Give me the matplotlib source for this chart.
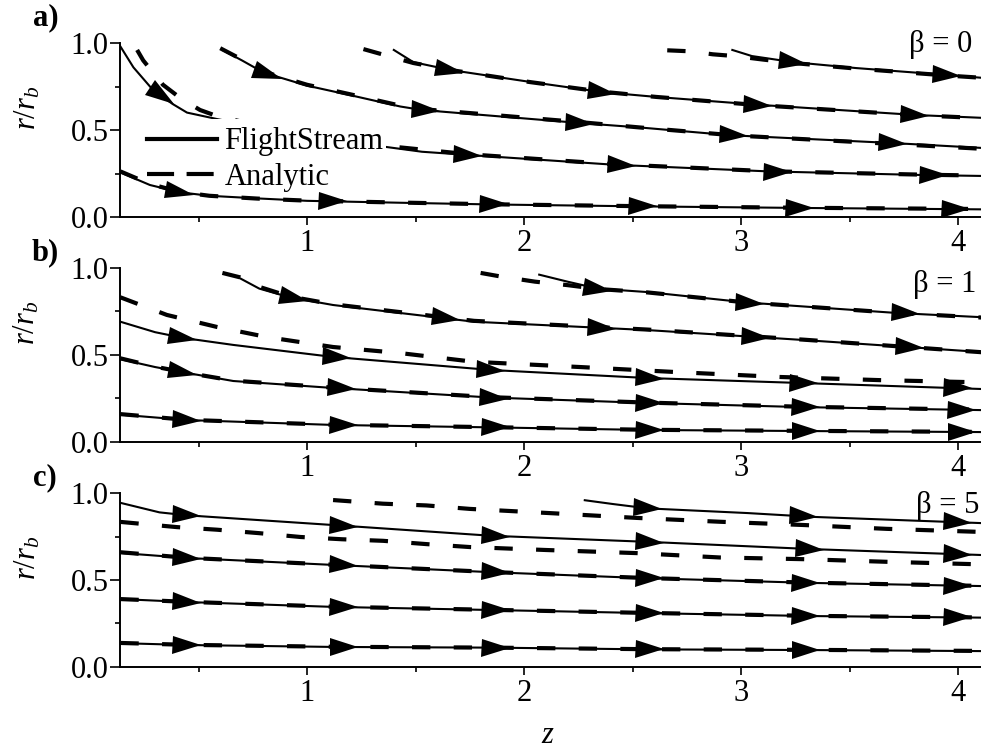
import numpy as np
import matplotlib
matplotlib.use('Agg')
import matplotlib.pyplot as plt
from matplotlib.markers import MarkerStyle
from matplotlib.transforms import Affine2D
from matplotlib.lines import Line2D
from matplotlib.patches import Rectangle
from matplotlib.ticker import MultipleLocator, FormatStrFormatter

plt.rcParams['font.family'] = 'Liberation Serif'
plt.rcParams['mathtext.fontset'] = 'custom'
plt.rcParams['mathtext.rm'] = 'Liberation Serif'
plt.rcParams['mathtext.it'] = 'Liberation Serif:italic'

# ---- beta = 0 ----
a_fs1 = ([0.14, 0.276, 0.415, 0.55, 0.77, 1.0, 1.43, 1.86, 2.55, 3.29, 4.11],
         [0.256, 0.184, 0.142, 0.122, 0.107, 0.093, 0.082, 0.072, 0.061, 0.052, 0.044])
a_fs2 = ([0.14, 0.2, 0.29, 0.38, 0.447, 0.585, 0.8, 1.0, 1.35, 1.53, 1.75, 2.42, 3.13, 3.85, 4.11],
         [0.98, 0.86, 0.73, 0.65, 0.60, 0.563, 0.51, 0.47, 0.405, 0.375, 0.356, 0.30, 0.262, 0.241, 0.236])
a_fs3 = ([0.61, 0.70, 0.80, 1.0, 1.2, 1.43, 1.53, 2.26, 2.53, 2.95, 3.70, 4.11],
         [0.96, 0.90, 0.83, 0.755, 0.70, 0.635, 0.615, 0.54, 0.515, 0.47, 0.425, 0.397])
a_fs4 = ([1.40, 1.49, 1.66, 2.03, 2.36, 2.61, 3.09, 3.81, 4.11],
         [0.96, 0.89, 0.845, 0.776, 0.718, 0.69, 0.644, 0.586, 0.57])
a_fs5 = ([2.96, 3.05, 3.24, 3.53, 3.95, 4.11],
         [0.96, 0.925, 0.89, 0.856, 0.816, 0.80])

a_an1 = ([0.14, 0.276, 0.415, 0.55, 0.77, 1.0, 1.43, 1.86, 2.55, 3.29, 4.11],
         [0.262, 0.19, 0.144, 0.122, 0.106, 0.094, 0.083, 0.073, 0.062, 0.053, 0.046])
a_an2 = ([0.217, 0.245, 0.336, 0.42, 0.507, 0.585, 0.8, 1.0, 1.35, 1.75, 2.42, 3.13, 3.85, 4.11],
         [0.96, 0.90, 0.76, 0.68, 0.615, 0.58, 0.52, 0.475, 0.41, 0.36, 0.303, 0.263, 0.243, 0.238])
a_an3 = ([0.60, 0.70, 0.80, 1.0, 1.2, 1.43, 1.53, 2.26, 2.53, 2.98, 3.70, 4.11],
         [0.97, 0.905, 0.835, 0.76, 0.705, 0.64, 0.62, 0.545, 0.515, 0.468, 0.42, 0.392])
a_an4 = ([1.26, 1.36, 1.49, 1.66, 2.03, 2.36, 2.61, 3.09, 3.81, 4.11],
         [0.965, 0.93, 0.885, 0.845, 0.775, 0.72, 0.69, 0.642, 0.585, 0.568])
a_an5 = ([2.66, 2.77, 2.87, 2.97, 3.1, 3.24, 3.53, 3.95, 4.11],
         [0.958, 0.952, 0.935, 0.925, 0.905, 0.885, 0.853, 0.813, 0.80])

a_arr = [[0.415, 1.12, 1.86, 2.55, 3.27, 3.99],
         [0.33, 1.74, 2.45, 3.17, 3.89],
         [0.82, 1.55, 2.26, 2.97, 3.70],
         [1.66, 2.36, 3.08, 3.80],
         [3.24, 3.95]]

# ---- beta = 1 ----
b_fs1 = ([0.14, 0.447, 1.12, 1.85, 2.57, 3.29, 4.11],
         [0.157, 0.126, 0.098, 0.084, 0.069, 0.063, 0.057])
b_fs2 = ([0.14, 0.30, 0.447, 0.66, 1.12, 1.85, 2.57, 3.29, 4.11],
         [0.475, 0.43, 0.396, 0.35, 0.31, 0.255, 0.224, 0.20, 0.183])
b_fs3 = ([0.14, 0.30, 0.43, 0.66, 1.12, 1.85, 2.57, 3.29, 4.11],
         [0.69, 0.63, 0.597, 0.557, 0.488, 0.413, 0.367, 0.338, 0.304])
b_fs4 = ([0.69, 0.78, 0.92, 1.12, 1.43, 1.77, 2.57, 3.29, 4.11],
         [0.94, 0.88, 0.83, 0.786, 0.74, 0.69, 0.642, 0.585, 0.516])
b_fs5 = ([2.07, 2.20, 2.34, 2.57, 3.03, 3.72, 4.11],
         [0.96, 0.92, 0.88, 0.86, 0.80, 0.74, 0.716])

b_an1 = ([0.14, 0.447, 1.12, 1.85, 2.57, 3.29, 4.11],
         [0.16, 0.127, 0.099, 0.085, 0.07, 0.064, 0.058])
b_an2 = ([0.14, 0.30, 0.447, 0.66, 1.12, 1.85, 2.57, 3.29, 4.11],
         [0.48, 0.432, 0.397, 0.352, 0.312, 0.257, 0.226, 0.202, 0.185])
b_an3 = ([0.14, 0.354, 0.585, 0.815, 1.12, 1.43, 1.77, 2.26, 2.72, 3.18, 3.64, 4.11],
         [0.83, 0.729, 0.66, 0.602, 0.545, 0.51, 0.46, 0.43, 0.40, 0.373, 0.355, 0.342])
b_an4 = ([0.61, 0.69, 0.78, 0.92, 1.12, 1.43, 1.77, 2.57, 3.29, 4.11],
         [0.97, 0.945, 0.89, 0.835, 0.79, 0.745, 0.695, 0.645, 0.587, 0.515])
b_an5 = ([1.80, 1.89, 2.05, 2.20, 2.34, 2.57, 3.03, 3.72, 4.11],
         [0.97, 0.95, 0.92, 0.90, 0.878, 0.858, 0.80, 0.74, 0.714])

b_arr = [[0.447, 1.17, 1.87, 2.58, 3.30, 4.02],
         [0.43, 1.16, 1.86, 2.58, 3.30, 4.02],
         [0.43, 1.14, 1.85, 2.58, 3.29, 4.0],
         [0.94, 1.64, 2.36, 3.07, 3.78],
         [2.34, 3.04, 3.76]]

# ---- beta = 5 ----
c_fs1 = ([0.14, 0.447, 1.12, 1.85, 2.57, 3.33, 4.11],
         [0.136, 0.125, 0.114, 0.11, 0.10, 0.096, 0.09])
c_fs2 = ([0.14, 0.447, 1.12, 1.85, 2.57, 3.33, 4.11],
         [0.39, 0.373, 0.345, 0.327, 0.309, 0.292, 0.283])
c_fs3 = ([0.14, 0.447, 1.12, 1.85, 2.57, 3.33, 4.11],
         [0.656, 0.627, 0.587, 0.545, 0.51, 0.483, 0.465])
c_fs4 = ([0.14, 0.32, 0.447, 1.12, 1.85, 2.57, 3.33, 4.11],
         [0.945, 0.89, 0.873, 0.817, 0.755, 0.72, 0.678, 0.644])
c_fs5 = ([2.28, 2.41, 2.57, 3.03, 3.33, 3.72, 4.11],
         [0.96, 0.938, 0.913, 0.886, 0.864, 0.846, 0.828])

c_an1 = ([0.14, 0.447, 1.12, 1.85, 2.57, 3.33, 4.11],
         [0.137, 0.126, 0.115, 0.11, 0.101, 0.097, 0.091])
c_an2 = ([0.14, 0.447, 1.12, 1.85, 2.57, 3.33, 4.11],
         [0.39, 0.374, 0.346, 0.328, 0.31, 0.293, 0.284])
c_an3 = ([0.14, 0.447, 1.12, 1.85, 2.57, 3.33, 4.11],
         [0.66, 0.628, 0.588, 0.546, 0.511, 0.484, 0.466])
c_an4 = ([0.14, 0.40, 0.585, 0.78, 0.97, 1.16, 1.35, 1.55, 1.75, 2.1, 2.52, 2.9, 3.29, 3.67, 4.11],
         [0.835, 0.805, 0.79, 0.77, 0.748, 0.735, 0.726, 0.707, 0.69, 0.673, 0.655, 0.63, 0.62, 0.605, 0.59])
c_an5 = ([1.12, 1.35, 1.55, 1.75, 2.13, 2.52, 2.9, 3.29, 3.67, 4.11],
         [0.961, 0.94, 0.93, 0.91, 0.885, 0.858, 0.836, 0.817, 0.795, 0.777])

c_arr = [[0.447, 1.17, 1.87, 2.58, 3.30],
         [0.447, 1.17, 1.87, 2.58, 3.30, 4.0],
         [0.447, 1.17, 1.87, 2.58, 3.30, 4.0],
         [0.447, 1.17, 1.87, 2.58, 3.32, 4.0],
         [2.57, 3.29, 4.0]]

panels = [
    ('a)', [a_fs1, a_fs2, a_fs3, a_fs4, a_fs5], [a_an1, a_an2, a_an3, a_an4, a_an5], a_arr),
    ('b)', [b_fs1, b_fs2, b_fs3, b_fs4, b_fs5], [b_an1, b_an2, b_an3, b_an4, b_an5], b_arr),
    ('c)', [c_fs1, c_fs2, c_fs3, c_fs4, c_fs5], [c_an1, c_an2, c_an3, c_an4, c_an5], c_arr),
]
beta_labels = ['β = 0', 'β = 1', 'β = 5']

FS = 22
fig = plt.figure(figsize=(9.81, 7.53), dpi=100)

# axes boxes (left, bottom, width, height) in figure fraction
boxes = [[0.1223, 0.7118, 0.8777, 0.2311],
         [0.1223, 0.4130, 0.8777, 0.2315],
         [0.1223, 0.1146, 0.8777, 0.2303]]
beta_pos = [(0.9895, 0.948), (0.995, 0.861), (0.998, 0.886)]
tag_pos = [(0.0336, 0.9668), (0.0326, 0.6547), (0.0336, 0.3559)]
ylab_pos = [(0.0285, 0.8566), (0.0275, 0.571), (0.0285, 0.259)]


def add_arrows(ax, z, r, at):
    for za in at:
        ra = np.interp(za, z, r)
        p0 = ax.transData.transform((za - 0.03, np.interp(za - 0.03, z, r)))
        p1 = ax.transData.transform((za + 0.03, np.interp(za + 0.03, z, r)))
        ang = np.degrees(np.arctan2(p1[1] - p0[1], p1[0] - p0[0]))
        m = MarkerStyle('>', transform=Affine2D().scale(1.6, 1.0).rotate_deg(ang))
        ax.plot([za], [ra], ls='none', marker=m, ms=13, mew=0, color='k', zorder=4)


for i, (tag, fs_lines, an_lines, arrows) in enumerate(panels):
    ax = fig.add_axes(boxes[i])
    ax.set_xlim(0.138, 4.106)
    ax.set_ylim(0, 1.0)

    for z, r in an_lines:
        ax.plot(z, r, color='k', lw=3, dashes=(4.4, 5.6), zorder=2)
    for (z, r), at in zip(fs_lines, arrows):
        ax.plot(z, r, color='k', lw=1.5, zorder=3)
        add_arrows(ax, z, r, at)

    ax.spines['top'].set_visible(False)
    ax.spines['right'].set_visible(False)
    for s in ('left', 'bottom'):
        ax.spines[s].set_linewidth(1.4)
    ax.xaxis.set_major_locator(MultipleLocator(1))
    ax.xaxis.set_minor_locator(MultipleLocator(0.5))
    ax.yaxis.set_major_locator(MultipleLocator(0.5))
    ax.yaxis.set_minor_locator(MultipleLocator(0.25))
    ax.yaxis.set_major_formatter(FormatStrFormatter('%.1f'))
    ax.tick_params(axis='both', which='both', direction='out', width=1.2, labelsize=FS)
    ax.tick_params(axis='y', which='major', length=7, pad=1)
    ax.tick_params(axis='y', which='minor', length=3.5)
    ax.tick_params(axis='x', which='major', length=5.5, pad=3)
    ax.tick_params(axis='x', which='minor', length=3.5)

    ax.text(beta_pos[i][0], beta_pos[i][1], beta_labels[i], transform=ax.transAxes,
            ha='right', va='baseline', fontsize=FS)
    fig.text(tag_pos[i][0], tag_pos[i][1], tag, fontsize=FS, fontweight='bold',
             ha='left', va='baseline')
    fig.text(ylab_pos[i][0], ylab_pos[i][1], r'$r/r_b$', fontsize=FS, rotation=90,
             ha='center', va='center')

    if i == 0:
        # white patch behind the legend's first row hides the curves there
        ax.add_patch(Rectangle((0.0255, 0.33), 0.284, 0.233, transform=ax.transAxes,
                               facecolor='white', edgecolor='none', zorder=6))
        h_fs = Line2D([], [], color='k', lw=3)
        h_an = Line2D([], [], color='k', lw=3, dashes=(6.5, 3))
        leg = ax.legend([h_fs, h_an], ['FlightStream', 'Analytic'], loc='upper left',
                        bbox_to_anchor=(0.0255, 0.542), borderaxespad=0, frameon=False,
                        fontsize=FS, handlelength=2.3, handletextpad=0.25,
                        labelspacing=0.22, borderpad=0.15)
        leg.set_zorder(10)

fig.text(0.5576, 0.004, 'z', fontsize=FS, style='italic', ha='center', va='bottom')

fig.savefig('out.png', dpi=100)
